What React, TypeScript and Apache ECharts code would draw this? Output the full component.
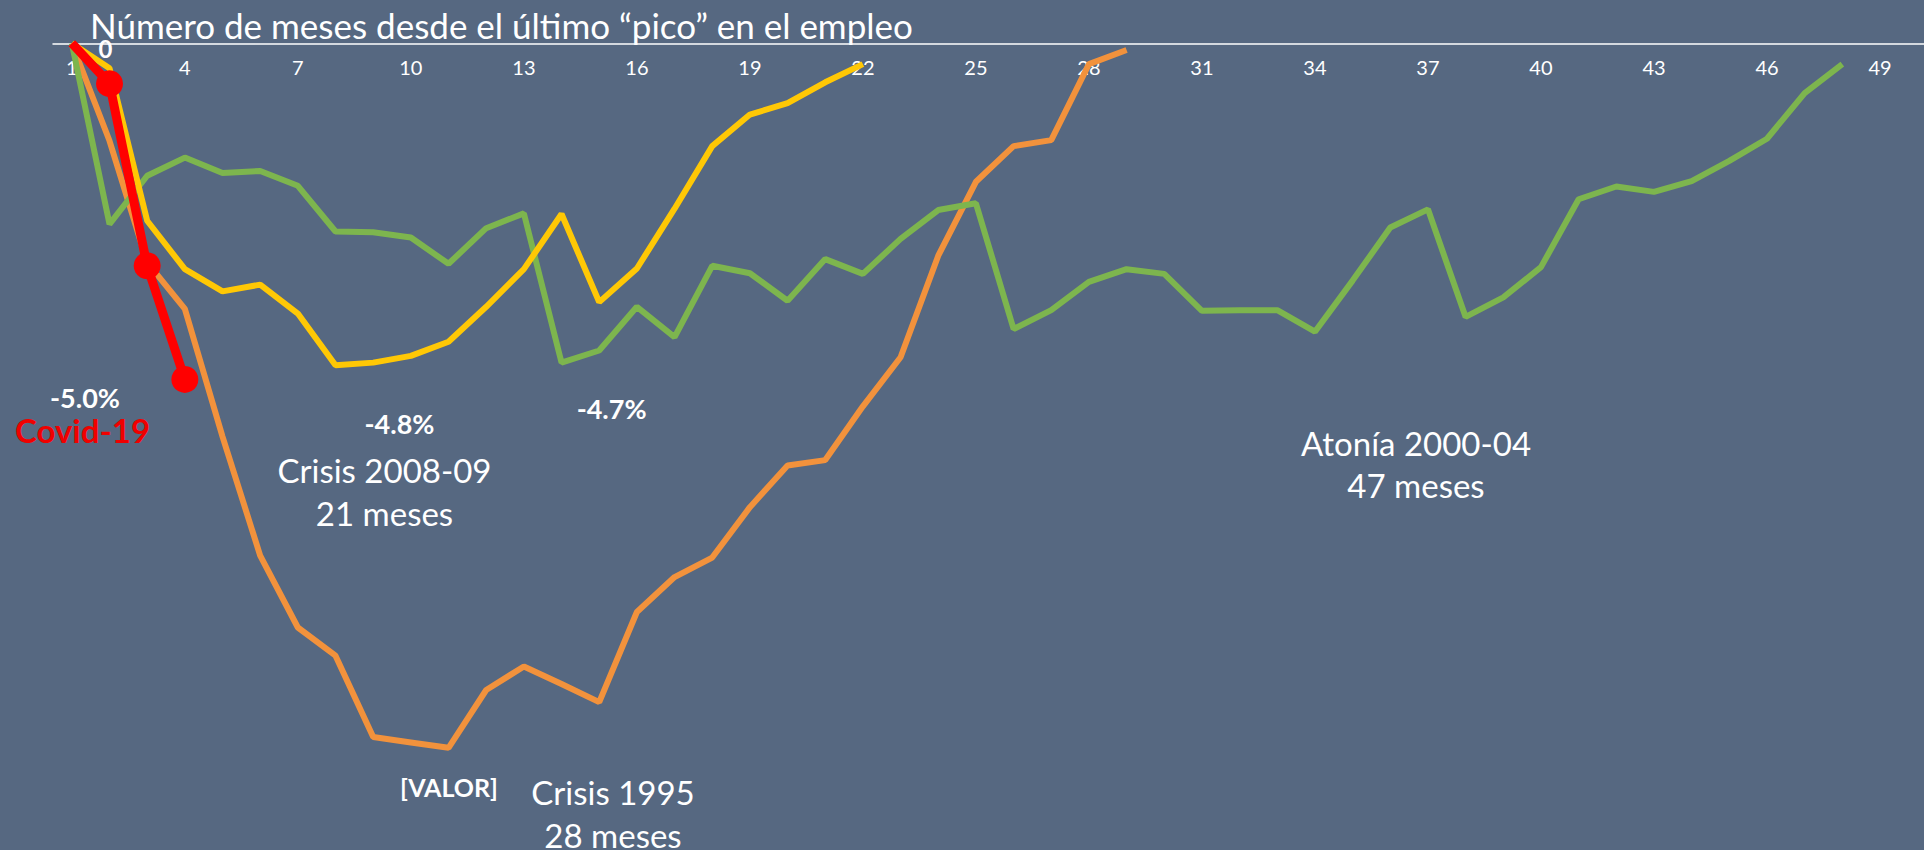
import React, { useEffect, useRef } from "react";
import * as echarts from "echarts";

const categories = Array.from({ length: 50 }, (_, i) => String(i + 1));

const covid19 = [0, -0.6, -3.31, -5.0];

const crisis0809 = [
  0, -0.37, -2.64, -3.36, -3.69, -3.59, -4.02, -4.79, -4.75, -4.65, -4.44,
  -3.92, -3.36, -2.54, -3.85, -3.35, -2.46, -1.53, -1.06, -0.89, -0.58, -0.31,
];

const crisis1995 = [
  0, -1.45, -3.26, -3.95, -5.85, -7.62, -8.69, -9.11, -10.32, -10.4, -10.48,
  -9.62, -9.27, -9.53, -9.8, -8.46, -7.94, -7.65, -6.9, -6.28, -6.2, -5.4,
  -4.67, -3.16, -2.06, -1.53, -1.44, -0.31, -0.1,
];

const atonia0004 = [
  0, -2.69, -1.97, -1.7, -1.93, -1.9, -2.12, -2.8, -2.81, -2.89, -3.28, -2.75,
  -2.53, -4.75, -4.57, -3.92, -4.37, -3.31, -3.42, -3.83, -3.21, -3.43, -2.91,
  -2.48, -2.38, -4.25, -3.97, -3.55, -3.36, -3.43, -3.98, -3.97, -3.97, -4.29,
  -3.53, -2.74, -2.47, -4.07, -3.78, -3.33, -2.32, -2.13, -2.21, -2.05, -1.75,
  -1.42, -0.74, -0.31,
];

const titleText = "Número de meses desde el último “pico” en el empleo";

const BG = "#566881";
const FONT = "Lato, 'Open Sans', sans-serif";

export default function App() {
  const ref = useRef<HTMLDivElement>(null);

  useEffect(() => {
    if (!ref.current) return;
    const chart = echarts.init(ref.current, undefined, { renderer: "svg" });

    const txt = (
      text: string,
      x: number,
      y: number,
      size: number,
      bold: boolean,
      color = "#ffffff",
      align: string = "center"
    ) => ({
      type: "text",
      x,
      y,
      silent: true,
      style: {
        text,
        fill: color,
        font: `${bold ? "bold " : ""}${size}px ${FONT}`,
        textAlign: align,
        textVerticalAlign: "middle",
      },
    });

    chart.setOption({
      animation: false,
      backgroundColor: BG,
      grid: { left: 53, top: 43.3, width: 1883.5, height: 810.5 },
      xAxis: {
        type: "category",
        position: "top",
        data: categories,
        boundaryGap: true,
        axisLine: { show: true, lineStyle: { color: "#ffffff", width: 1.5 } },
        axisTick: { show: false },
        axisLabel: {
          inside: true,
          interval: 2,
          color: "#ffffff",
          fontSize: 20,
          fontFamily: FONT,
          margin: 14,
        },
        splitLine: { show: false },
      },
      yAxis: {
        type: "value",
        min: -12,
        max: 0,
        show: false,
        splitLine: { show: false },
      },
      series: [
        {
          name: "Crisis 1995",
          type: "line",
          data: crisis1995,
          symbol: "none",
          lineStyle: { color: "#F2923C", width: 6 },
          z: 2,
        },
        {
          name: "Atonía 2000-04",
          type: "line",
          data: atonia0004,
          symbol: "none",
          lineStyle: { color: "#7DB54E", width: 6 },
          z: 3,
        },
        {
          name: "Crisis 2008-09",
          type: "line",
          data: crisis0809,
          symbol: "none",
          lineStyle: { color: "#FFC805", width: 6 },
          z: 4,
        },
        {
          name: "Covid-19",
          type: "line",
          data: covid19.map((v, i) =>
            i === 0 ? { value: v, symbol: "none" } : v
          ),
          symbol: "circle",
          symbolSize: 27,
          showAllSymbol: true,
          itemStyle: { color: "#FF0000" },
          lineStyle: { color: "#FF0000", width: 9 },
          z: 5,
        },
      ],
      graphic: [
        txt(titleText, 90, 25, 35, false, "#ffffff", "left"),
        txt("0", 105.5, 48, 24, true),
        txt("-5.0%", 85, 397, 27, true),
        txt("Covid-19", 82.5, 430, 33, true, "#F00000"),
        txt("-4.8%", 399.5, 423, 27, true),
        txt("-4.7%", 611.6, 408, 27, true),
        txt("Crisis 2008-09", 384.5, 470, 33, false),
        txt("21 meses", 384.5, 513, 33, false),
        txt("Atonía 2000-04", 1416, 443, 33, false),
        txt("47 meses", 1416, 485, 33, false),
        txt("[VALOR]", 449, 787, 25, true),
        txt("Crisis 1995", 613, 792, 33, false),
        txt("28 meses", 613, 835, 33, false),
      ],
    });

    return () => chart.dispose();
  }, []);

  return (
    <div
      style={{
        position: "absolute",
        left: 0,
        top: 0,
        width: 1924,
        height: 850,
        overflow: "hidden",
      }}
    >
      <div ref={ref} style={{ width: 1940, height: 850 }} />
    </div>
  );
}
